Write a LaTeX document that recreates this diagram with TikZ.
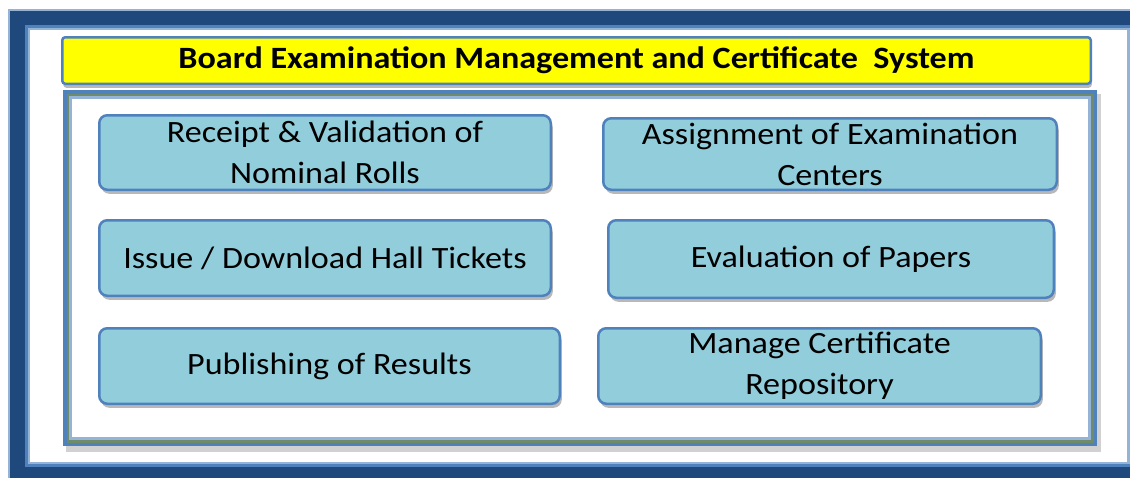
\documentclass[tikz,border=0pt]{standalone}
\usepackage{fontspec}
\setmainfont{Carlito}[FakeStretch=1.1]
\usetikzlibrary{shadows}
\definecolor{darkblue}{HTML}{1F497D}
\definecolor{midblue}{HTML}{4F81BD}
\definecolor{paleblue}{HTML}{95B3D7}
\definecolor{boxfill}{HTML}{92CDDC}
\definecolor{framegreen}{HTML}{6E8C6A}
\definecolor{titleyellow}{HTML}{FFFF00}
\tikzset{
  taskbox/.style={draw=midblue, line width=2.5pt, fill=boxfill, rounded corners=8pt,
    align=center, inner sep=0pt, text=black,
    font=\fontsize{31}{41}\selectfont,
    drop shadow={shadow xshift=2pt, shadow yshift=-4pt, fill=black!28, opacity=1}},
  titlebox/.style={draw=midblue, line width=2.5pt, fill=titleyellow, rounded corners=3pt,
    align=center, inner sep=0pt, text=black,
    font=\fontsize{31}{36}\bfseries\selectfont,
    drop shadow={shadow xshift=1pt, shadow yshift=-4pt, fill=black!28, opacity=1}}
}
\begin{document}
\begin{tikzpicture}[x=1pt,y=-1pt]
\useasboundingbox (0,0) rectangle (1130,477);
\clip (0,0) rectangle (1130,477);
% outer frame
\fill[paleblue] (8,9) rectangle (1160,500);
\fill[darkblue] (10,11) rectangle (1160,500);
\fill[midblue] (25,25) rectangle (1130,467);
\fill[paleblue] (28,28) rectangle (1130,464);
\fill[white] (30,30) rectangle (1127,462);
% inner frame shadow and frame
\fill[black!18] (66,94) rectangle (1101,452);
\fill[white] (63,90) rectangle (1097,446);
\draw[midblue, line width=3.5pt] (64.75,91.75) rectangle (1095.25,444.25);
\draw[framegreen, line width=2.5pt] (67.75,94.75) rectangle (1092.25,441.25);
\draw[paleblue, line width=3pt] (70.5,97.5) rectangle (1089.5,438.5);
% title
\node[titlebox, minimum width=1028.5pt, minimum height=46.5pt] (title) at (576.5,60.5)
  {Board Examination Management and Certificate\ \ System};
% boxes
\node[taskbox, minimum width=451.5pt, minimum height=74.5pt] (receipt) at (325,152.5)
  {Receipt \& Validation of\\Nominal Rolls};
\node[taskbox, minimum width=453.5pt, minimum height=71.5pt] (assign) at (830,154)
  {Assignment of Examination\\Centers};
\node[taskbox, minimum width=451.5pt, minimum height=75.5pt] (issue) at (325,258)
  {Issue / Download Hall Tickets};
\node[taskbox, minimum width=445.5pt, minimum height=77.5pt] (eval) at (831,259)
  {Evaluation of Papers};
\node[taskbox, minimum width=460.5pt, minimum height=75.5pt] (publish) at (329.5,366)
  {Publishing of Results};
\node[taskbox, minimum width=442.5pt, minimum height=75.5pt] (manage) at (819.5,366)
  {Manage Certificate\\Repository};
\end{tikzpicture}
\end{document}
